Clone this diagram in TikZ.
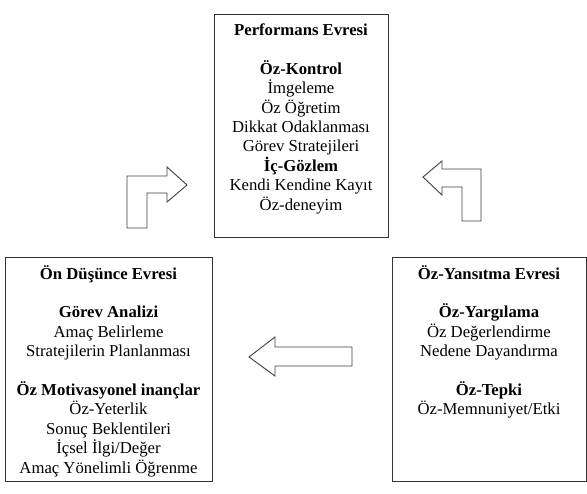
\documentclass[tikz,border=0pt]{standalone}
\usepackage{fontspec}
\setmainfont{Liberation Serif}
\begin{document}
\begin{tikzpicture}[x=1pt, y=-1pt, line join=miter,
    evre/.style={draw=black!80, line width=0.9pt, minimum height=224pt, inner sep=0pt},
    metin/.style={anchor=north, align=center, inner sep=0pt, font=\fontsize{16.7}{19.4}\selectfont},
    ok/.style={draw=black!75, line width=0.9pt, fill=white}]
            \useasboundingbox (0,0) rectangle (587,494);

            % evre kutulari
            \node [evre, minimum width=174pt, minimum height=223pt] (perf) at (301,125.5) {};
            \node [evre, minimum width=207pt] (ondus) at (108.5,369) {};
            \node [evre, minimum width=194pt] (yans) at (489,369) {};

            \node [metin] (perfT) at (301,23.5) {\textbf{Performans Evresi}\\[19.4pt]
                \textbf{Öz-Kontrol}\\ İmgeleme\\ Öz Öğretim\\ Dikkat Odaklanması\\
                Görev Stratejileri\\ \textbf{İç-Gözlem}\\ Kendi Kendine Kayıt\\ Öz-deneyim};
            \node [metin] (ondusT) at (108.5,265) {\textbf{Ön Düşünce Evresi}\\[19.4pt]
                \textbf{Görev Analizi}\\ Amaç Belirleme\\ Stratejilerin Planlanması\\[19.4pt]
                \textbf{Öz Motivasyonel inançlar}\\ Öz-Yeterlik\\ Sonuç Beklentileri\\
                İçsel İlgi/Değer\\ Amaç Yönelimli Öğrenme};
            \node [metin] (yansT) at (489,265) {\textbf{Öz-Yansıtma Evresi}\\[19.4pt]
                \textbf{Öz-Yargılama}\\ Öz Değerlendirme\\ Nedene Dayandırma\\[19.4pt]
                \textbf{Öz-Tepki}\\ Öz-Memnuniyet/Etki};

            % donguyu gosteren oklar
            \draw [ok] (127,228) -- (127,176) -- (167,176) -- (167,167) -- (187,185)
                -- (167,202) -- (167,193) -- (147,193) -- (147,228) -- cycle;
            \draw [ok] (423,177) -- (442,161) -- (442,169) -- (481,169) -- (481,221)
                -- (462,221) -- (462,187) -- (442,187) -- (442,195) -- cycle;
            \draw [ok] (249,357) -- (275,337) -- (275,347) -- (352,347) -- (352,366)
                -- (275,366) -- (275,376) -- cycle;
\end{tikzpicture}
\end{document}
